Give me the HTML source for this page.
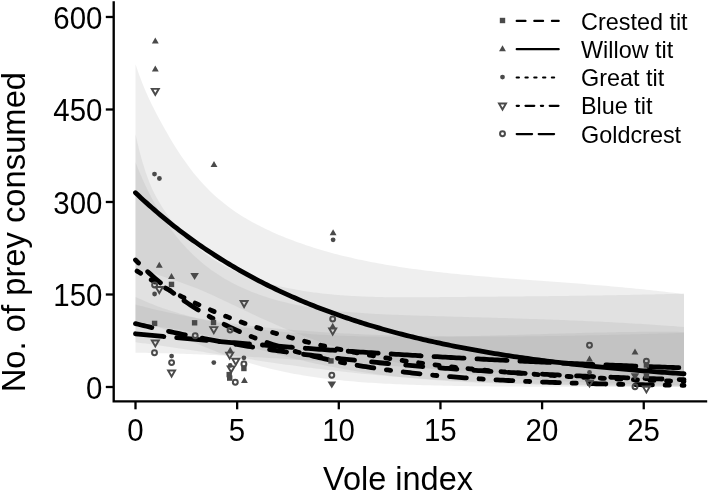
<!DOCTYPE html>
<html><head><meta charset="utf-8"><style>
html,body{margin:0;padding:0;background:#fff;width:709px;height:492px;overflow:hidden}
svg{display:block;font-family:"Liberation Sans",sans-serif;filter:grayscale(1)}
</style></head><body>
<svg width="709" height="492" viewBox="0 0 709 492">
<rect width="709" height="492" fill="#fff"/>
<path d="M135.50 64.20 L138.93 74.21 L142.36 83.28 L145.78 91.57 L149.21 99.22 L152.64 106.35 L156.07 113.09 L159.50 119.54 L162.93 125.78 L166.35 131.85 L169.78 137.74 L173.21 143.43 L176.64 148.92 L180.07 154.20 L183.49 159.27 L186.92 164.12 L190.35 168.75 L193.78 173.15 L197.21 177.32 L200.63 181.28 L204.06 185.02 L207.49 188.58 L210.92 191.96 L214.35 195.16 L217.78 198.21 L221.20 201.11 L224.63 203.87 L228.06 206.50 L231.49 209.01 L234.92 211.41 L238.34 213.69 L241.77 215.88 L245.20 217.98 L248.63 219.99 L252.06 221.92 L255.49 223.78 L258.91 225.57 L262.34 227.29 L265.77 228.96 L269.20 230.57 L272.63 232.14 L276.05 233.66 L279.48 235.13 L282.91 236.56 L286.34 237.95 L289.77 239.30 L293.19 240.61 L296.62 241.88 L300.05 243.11 L303.48 244.31 L306.91 245.47 L310.34 246.60 L313.76 247.70 L317.19 248.76 L320.62 249.80 L324.05 250.80 L327.48 251.77 L330.90 252.72 L334.33 253.64 L337.76 254.53 L341.19 255.40 L344.62 256.24 L348.05 257.06 L351.47 257.86 L354.90 258.63 L358.33 259.38 L361.76 260.11 L365.19 260.82 L368.61 261.51 L372.04 262.17 L375.47 262.82 L378.90 263.45 L382.33 264.07 L385.75 264.67 L389.18 265.24 L392.61 265.81 L396.04 266.36 L399.47 266.89 L402.90 267.41 L406.32 267.91 L409.75 268.40 L413.18 268.88 L416.61 269.34 L420.04 269.80 L423.46 270.24 L426.89 270.67 L430.32 271.08 L433.75 271.49 L437.18 271.89 L440.61 272.27 L444.03 272.65 L447.46 273.02 L450.89 273.38 L454.32 273.73 L457.75 274.07 L461.17 274.41 L464.60 274.74 L468.03 275.06 L471.46 275.37 L474.89 275.68 L478.31 275.99 L481.74 276.28 L485.17 276.58 L488.60 276.86 L492.03 277.14 L495.46 277.42 L498.88 277.70 L502.31 277.97 L505.74 278.24 L509.17 278.50 L512.60 278.76 L516.02 279.02 L519.45 279.28 L522.88 279.53 L526.31 279.79 L529.74 280.04 L533.16 280.29 L536.59 280.54 L540.02 280.79 L543.45 281.04 L546.88 281.29 L550.31 281.54 L553.73 281.79 L557.16 282.04 L560.59 282.29 L564.02 282.55 L567.45 282.80 L570.87 283.06 L574.30 283.32 L577.73 283.59 L581.16 283.85 L584.59 284.12 L588.02 284.39 L591.44 284.67 L594.87 284.94 L598.30 285.23 L601.73 285.51 L605.16 285.80 L608.58 286.10 L612.01 286.40 L615.44 286.71 L618.87 287.02 L622.30 287.33 L625.72 287.65 L629.15 287.98 L632.58 288.31 L636.01 288.65 L639.44 289.00 L642.87 289.35 L646.29 289.71 L649.72 290.08 L653.15 290.45 L656.58 290.83 L660.01 291.22 L663.43 291.61 L666.86 292.01 L670.29 292.42 L673.72 292.84 L677.15 293.27 L680.58 293.70 L684.00 294.15 L684.00 385.11 L680.58 385.05 L677.15 384.99 L673.72 384.94 L670.29 384.87 L666.86 384.81 L663.43 384.75 L660.01 384.68 L656.58 384.61 L653.15 384.54 L649.72 384.46 L646.29 384.39 L642.87 384.31 L639.44 384.23 L636.01 384.14 L632.58 384.05 L629.15 383.96 L625.72 383.87 L622.30 383.77 L618.87 383.67 L615.44 383.57 L612.01 383.46 L608.58 383.35 L605.16 383.24 L601.73 383.12 L598.30 383.00 L594.87 382.88 L591.44 382.75 L588.02 382.62 L584.59 382.48 L581.16 382.34 L577.73 382.19 L574.30 382.04 L570.87 381.88 L567.45 381.72 L564.02 381.55 L560.59 381.38 L557.16 381.20 L553.73 381.02 L550.31 380.83 L546.88 380.63 L543.45 380.43 L540.02 380.22 L536.59 380.01 L533.16 379.79 L529.74 379.56 L526.31 379.32 L522.88 379.08 L519.45 378.83 L516.02 378.57 L512.60 378.30 L509.17 378.03 L505.74 377.75 L502.31 377.45 L498.88 377.15 L495.46 376.84 L492.03 376.52 L488.60 376.19 L485.17 375.85 L481.74 375.50 L478.31 375.14 L474.89 374.77 L471.46 374.39 L468.03 373.99 L464.60 373.59 L461.17 373.17 L457.75 372.74 L454.32 372.30 L450.89 371.84 L447.46 371.38 L444.03 370.90 L440.61 370.40 L437.18 369.89 L433.75 369.37 L430.32 368.83 L426.89 368.28 L423.46 367.71 L420.04 367.13 L416.61 366.53 L413.18 365.91 L409.75 365.28 L406.32 364.63 L402.90 363.97 L399.47 363.28 L396.04 362.58 L392.61 361.86 L389.18 361.13 L385.75 360.37 L382.33 359.60 L378.90 358.80 L375.47 357.99 L372.04 357.15 L368.61 356.30 L365.19 355.42 L361.76 354.53 L358.33 353.61 L354.90 352.68 L351.47 351.72 L348.05 350.74 L344.62 349.73 L341.19 348.71 L337.76 347.66 L334.33 346.59 L330.90 345.50 L327.48 344.38 L324.05 343.24 L320.62 342.08 L317.19 340.89 L313.76 339.69 L310.34 338.45 L306.91 337.20 L303.48 335.92 L300.05 334.61 L296.62 333.29 L293.19 331.93 L289.77 330.56 L286.34 329.16 L282.91 327.74 L279.48 326.30 L276.05 324.83 L272.63 323.34 L269.20 321.82 L265.77 320.29 L262.34 318.73 L258.91 317.15 L255.49 315.56 L252.06 313.95 L248.63 312.34 L245.20 310.71 L241.77 309.07 L238.34 307.43 L234.92 305.79 L231.49 304.14 L228.06 302.51 L224.63 300.88 L221.20 299.26 L217.78 297.66 L214.35 296.08 L210.92 294.53 L207.49 293.00 L204.06 291.50 L200.63 290.04 L197.21 288.62 L193.78 287.25 L190.35 285.93 L186.92 284.65 L183.49 283.41 L180.07 282.21 L176.64 281.03 L173.21 279.89 L169.78 278.76 L166.35 277.65 L162.93 276.55 L159.50 275.44 L156.07 274.35 L152.64 273.31 L149.21 272.34 L145.78 271.50 L142.36 270.81 L138.93 270.33 L135.50 270.09Z" fill="#999999" fill-opacity="0.16"/>
<path d="M135.50 134.36 L138.93 148.94 L142.36 161.63 L145.78 172.57 L149.21 181.91 L152.64 189.89 L156.07 196.78 L159.50 202.85 L162.93 208.29 L166.35 213.31 L169.78 218.03 L173.21 222.48 L176.64 226.67 L180.07 230.62 L183.49 234.35 L186.92 237.87 L190.35 241.20 L193.78 244.34 L197.21 247.31 L200.63 250.12 L204.06 252.77 L207.49 255.29 L210.92 257.66 L214.35 259.91 L217.78 262.05 L221.20 264.06 L224.63 265.98 L228.06 267.79 L231.49 269.51 L234.92 271.14 L238.34 272.68 L241.77 274.15 L245.20 275.54 L248.63 276.86 L252.06 278.12 L255.49 279.31 L258.91 280.44 L262.34 281.52 L265.77 282.55 L269.20 283.53 L272.63 284.45 L276.05 285.33 L279.48 286.17 L282.91 286.96 L286.34 287.71 L289.77 288.42 L293.19 289.10 L296.62 289.73 L300.05 290.34 L303.48 290.90 L306.91 291.44 L310.34 291.94 L313.76 292.42 L317.19 292.86 L320.62 293.28 L324.05 293.67 L327.48 294.03 L330.90 294.37 L334.33 294.68 L337.76 294.97 L341.19 295.24 L344.62 295.49 L348.05 295.72 L351.47 295.93 L354.90 296.12 L358.33 296.30 L361.76 296.45 L365.19 296.59 L368.61 296.72 L372.04 296.83 L375.47 296.93 L378.90 297.01 L382.33 297.08 L385.75 297.14 L389.18 297.19 L392.61 297.23 L396.04 297.26 L399.47 297.28 L402.90 297.29 L406.32 297.30 L409.75 297.30 L413.18 297.29 L416.61 297.28 L420.04 297.26 L423.46 297.24 L426.89 297.22 L430.32 297.19 L433.75 297.16 L437.18 297.13 L440.61 297.10 L444.03 297.07 L447.46 297.04 L450.89 297.02 L454.32 296.99 L457.75 296.96 L461.17 296.93 L464.60 296.90 L468.03 296.87 L471.46 296.84 L474.89 296.81 L478.31 296.78 L481.74 296.75 L485.17 296.73 L488.60 296.70 L492.03 296.67 L495.46 296.64 L498.88 296.60 L502.31 296.57 L505.74 296.54 L509.17 296.51 L512.60 296.48 L516.02 296.45 L519.45 296.41 L522.88 296.38 L526.31 296.35 L529.74 296.31 L533.16 296.28 L536.59 296.24 L540.02 296.20 L543.45 296.17 L546.88 296.13 L550.31 296.09 L553.73 296.05 L557.16 296.01 L560.59 295.97 L564.02 295.92 L567.45 295.88 L570.87 295.84 L574.30 295.79 L577.73 295.74 L581.16 295.70 L584.59 295.65 L588.02 295.60 L591.44 295.55 L594.87 295.50 L598.30 295.44 L601.73 295.39 L605.16 295.33 L608.58 295.27 L612.01 295.21 L615.44 295.15 L618.87 295.09 L622.30 295.03 L625.72 294.96 L629.15 294.90 L632.58 294.83 L636.01 294.76 L639.44 294.69 L642.87 294.62 L646.29 294.54 L649.72 294.47 L653.15 294.39 L656.58 294.31 L660.01 294.23 L663.43 294.14 L666.86 294.06 L670.29 293.97 L673.72 293.88 L677.15 293.79 L680.58 293.69 L684.00 293.59 L684.00 386.97 L680.58 386.97 L677.15 386.97 L673.72 386.97 L670.29 386.97 L666.86 386.96 L663.43 386.96 L660.01 386.96 L656.58 386.96 L653.15 386.95 L649.72 386.95 L646.29 386.95 L642.87 386.95 L639.44 386.94 L636.01 386.94 L632.58 386.94 L629.15 386.93 L625.72 386.93 L622.30 386.93 L618.87 386.92 L615.44 386.92 L612.01 386.91 L608.58 386.91 L605.16 386.90 L601.73 386.90 L598.30 386.89 L594.87 386.88 L591.44 386.88 L588.02 386.87 L584.59 386.86 L581.16 386.85 L577.73 386.85 L574.30 386.84 L570.87 386.83 L567.45 386.82 L564.02 386.81 L560.59 386.80 L557.16 386.79 L553.73 386.77 L550.31 386.76 L546.88 386.75 L543.45 386.73 L540.02 386.72 L536.59 386.70 L533.16 386.69 L529.74 386.67 L526.31 386.65 L522.88 386.63 L519.45 386.61 L516.02 386.59 L512.60 386.56 L509.17 386.54 L505.74 386.51 L502.31 386.48 L498.88 386.45 L495.46 386.42 L492.03 386.39 L488.60 386.36 L485.17 386.32 L481.74 386.28 L478.31 386.24 L474.89 386.20 L471.46 386.15 L468.03 386.11 L464.60 386.06 L461.17 386.00 L457.75 385.95 L454.32 385.89 L450.89 385.82 L447.46 385.76 L444.03 385.69 L440.61 385.61 L437.18 385.53 L433.75 385.45 L430.32 385.36 L426.89 385.27 L423.46 385.17 L420.04 385.07 L416.61 384.96 L413.18 384.85 L409.75 384.73 L406.32 384.60 L402.90 384.46 L399.47 384.32 L396.04 384.17 L392.61 384.01 L389.18 383.85 L385.75 383.67 L382.33 383.49 L378.90 383.29 L375.47 383.09 L372.04 382.87 L368.61 382.65 L365.19 382.41 L361.76 382.16 L358.33 381.90 L354.90 381.62 L351.47 381.33 L348.05 381.02 L344.62 380.70 L341.19 380.37 L337.76 380.02 L334.33 379.65 L330.90 379.26 L327.48 378.86 L324.05 378.43 L320.62 377.99 L317.19 377.53 L313.76 377.04 L310.34 376.53 L306.91 376.00 L303.48 375.45 L300.05 374.87 L296.62 374.27 L293.19 373.65 L289.77 372.99 L286.34 372.31 L282.91 371.60 L279.48 370.87 L276.05 370.10 L272.63 369.30 L269.20 368.48 L265.77 367.62 L262.34 366.73 L258.91 365.81 L255.49 364.86 L252.06 363.87 L248.63 362.85 L245.20 361.79 L241.77 360.71 L238.34 359.59 L234.92 358.43 L231.49 357.25 L228.06 356.03 L224.63 354.78 L221.20 353.50 L217.78 352.19 L214.35 350.85 L210.92 349.49 L207.49 348.10 L204.06 346.68 L200.63 345.24 L197.21 343.79 L193.78 342.31 L190.35 340.82 L186.92 339.31 L183.49 337.80 L180.07 336.27 L176.64 334.74 L173.21 333.22 L169.78 331.69 L166.35 330.17 L162.93 328.67 L159.50 327.21 L156.07 325.87 L152.64 324.69 L149.21 323.75 L145.78 323.11 L142.36 322.80 L138.93 322.81 L135.50 323.12Z" fill="#999999" fill-opacity="0.16"/>
<path d="M135.50 162.16 L138.93 170.66 L142.36 178.64 L145.78 186.14 L149.21 193.19 L152.64 199.83 L156.07 206.07 L159.50 211.96 L162.93 217.50 L166.35 222.73 L169.78 227.67 L173.21 232.33 L176.64 236.73 L180.07 240.89 L183.49 244.82 L186.92 248.54 L190.35 252.07 L193.78 255.40 L197.21 258.56 L200.63 261.56 L204.06 264.39 L207.49 267.09 L210.92 269.64 L214.35 272.06 L217.78 274.37 L221.20 276.55 L224.63 278.63 L228.06 280.60 L231.49 282.48 L234.92 284.26 L238.34 285.96 L241.77 287.57 L245.20 289.10 L248.63 290.56 L252.06 291.95 L255.49 293.28 L258.91 294.53 L262.34 295.73 L265.77 296.87 L269.20 297.95 L272.63 298.98 L276.05 299.96 L279.48 300.89 L282.91 301.77 L286.34 302.61 L289.77 303.41 L293.19 304.17 L296.62 304.89 L300.05 305.57 L303.48 306.21 L306.91 306.83 L310.34 307.41 L313.76 307.96 L317.19 308.48 L320.62 308.97 L324.05 309.43 L327.48 309.87 L330.90 310.29 L334.33 310.68 L337.76 311.05 L341.19 311.40 L344.62 311.72 L348.05 312.03 L351.47 312.32 L354.90 312.60 L358.33 312.86 L361.76 313.10 L365.19 313.32 L368.61 313.54 L372.04 313.74 L375.47 313.93 L378.90 314.11 L382.33 314.27 L385.75 314.43 L389.18 314.58 L392.61 314.72 L396.04 314.86 L399.47 314.99 L402.90 315.11 L406.32 315.23 L409.75 315.34 L413.18 315.45 L416.61 315.55 L420.04 315.66 L423.46 315.76 L426.89 315.87 L430.32 315.97 L433.75 316.07 L437.18 316.17 L440.61 316.26 L444.03 316.36 L447.46 316.46 L450.89 316.56 L454.32 316.65 L457.75 316.75 L461.17 316.85 L464.60 316.94 L468.03 317.04 L471.46 317.13 L474.89 317.23 L478.31 317.33 L481.74 317.42 L485.17 317.52 L488.60 317.62 L492.03 317.72 L495.46 317.82 L498.88 317.92 L502.31 318.02 L505.74 318.12 L509.17 318.23 L512.60 318.33 L516.02 318.44 L519.45 318.55 L522.88 318.66 L526.31 318.77 L529.74 318.88 L533.16 318.99 L536.59 319.11 L540.02 319.23 L543.45 319.35 L546.88 319.47 L550.31 319.59 L553.73 319.72 L557.16 319.85 L560.59 319.98 L564.02 320.12 L567.45 320.25 L570.87 320.39 L574.30 320.53 L577.73 320.68 L581.16 320.83 L584.59 320.98 L588.02 321.13 L591.44 321.29 L594.87 321.45 L598.30 321.61 L601.73 321.78 L605.16 321.94 L608.58 322.12 L612.01 322.29 L615.44 322.47 L618.87 322.66 L622.30 322.85 L625.72 323.04 L629.15 323.23 L632.58 323.43 L636.01 323.63 L639.44 323.84 L642.87 324.05 L646.29 324.26 L649.72 324.48 L653.15 324.70 L656.58 324.93 L660.01 325.16 L663.43 325.39 L666.86 325.63 L670.29 325.88 L673.72 326.12 L677.15 326.38 L680.58 326.63 L684.00 326.89 L684.00 386.49 L680.58 386.47 L677.15 386.45 L673.72 386.43 L670.29 386.41 L666.86 386.39 L663.43 386.37 L660.01 386.35 L656.58 386.33 L653.15 386.30 L649.72 386.28 L646.29 386.25 L642.87 386.23 L639.44 386.20 L636.01 386.17 L632.58 386.14 L629.15 386.11 L625.72 386.08 L622.30 386.05 L618.87 386.01 L615.44 385.98 L612.01 385.94 L608.58 385.90 L605.16 385.86 L601.73 385.82 L598.30 385.78 L594.87 385.74 L591.44 385.69 L588.02 385.64 L584.59 385.59 L581.16 385.54 L577.73 385.49 L574.30 385.43 L570.87 385.38 L567.45 385.32 L564.02 385.26 L560.59 385.19 L557.16 385.12 L553.73 385.06 L550.31 384.98 L546.88 384.91 L543.45 384.83 L540.02 384.75 L536.59 384.67 L533.16 384.58 L529.74 384.49 L526.31 384.40 L522.88 384.30 L519.45 384.20 L516.02 384.10 L512.60 383.99 L509.17 383.88 L505.74 383.76 L502.31 383.64 L498.88 383.52 L495.46 383.39 L492.03 383.25 L488.60 383.11 L485.17 382.97 L481.74 382.81 L478.31 382.66 L474.89 382.50 L471.46 382.33 L468.03 382.15 L464.60 381.97 L461.17 381.78 L457.75 381.59 L454.32 381.38 L450.89 381.17 L447.46 380.96 L444.03 380.73 L440.61 380.50 L437.18 380.25 L433.75 380.00 L430.32 379.74 L426.89 379.47 L423.46 379.19 L420.04 378.89 L416.61 378.59 L413.18 378.28 L409.75 377.95 L406.32 377.62 L402.90 377.27 L399.47 376.91 L396.04 376.53 L392.61 376.15 L389.18 375.75 L385.75 375.33 L382.33 374.91 L378.90 374.47 L375.47 374.01 L372.04 373.54 L368.61 373.06 L365.19 372.56 L361.76 372.04 L358.33 371.51 L354.90 370.97 L351.47 370.41 L348.05 369.83 L344.62 369.23 L341.19 368.62 L337.76 368.00 L334.33 367.36 L330.90 366.70 L327.48 366.02 L324.05 365.33 L320.62 364.62 L317.19 363.90 L313.76 363.16 L310.34 362.40 L306.91 361.63 L303.48 360.85 L300.05 360.05 L296.62 359.23 L293.19 358.40 L289.77 357.56 L286.34 356.71 L282.91 355.84 L279.48 354.96 L276.05 354.07 L272.63 353.18 L269.20 352.27 L265.77 351.35 L262.34 350.43 L258.91 349.50 L255.49 348.57 L252.06 347.63 L248.63 346.69 L245.20 345.75 L241.77 344.81 L238.34 343.87 L234.92 342.93 L231.49 342.00 L228.06 341.08 L224.63 340.16 L221.20 339.26 L217.78 338.37 L214.35 337.49 L210.92 336.63 L207.49 335.79 L204.06 334.96 L200.63 334.17 L197.21 333.39 L193.78 332.65 L190.35 331.93 L186.92 331.25 L183.49 330.60 L180.07 329.99 L176.64 329.41 L173.21 328.88 L169.78 328.38 L166.35 327.94 L162.93 327.54 L159.50 327.18 L156.07 326.88 L152.64 326.63 L149.21 326.43 L145.78 326.29 L142.36 326.20 L138.93 326.17 L135.50 326.19Z" fill="#999999" fill-opacity="0.16"/>
<path d="M135.50 297.03 L138.93 298.60 L142.36 300.12 L145.78 301.59 L149.21 303.00 L152.64 304.36 L156.07 305.67 L159.50 306.93 L162.93 308.15 L166.35 309.33 L169.78 310.46 L173.21 311.56 L176.64 312.61 L180.07 313.63 L183.49 314.61 L186.92 315.56 L190.35 316.48 L193.78 317.36 L197.21 318.21 L200.63 319.03 L204.06 319.82 L207.49 320.59 L210.92 321.33 L214.35 322.04 L217.78 322.72 L221.20 323.38 L224.63 324.02 L228.06 324.64 L231.49 325.23 L234.92 325.80 L238.34 326.35 L241.77 326.88 L245.20 327.39 L248.63 327.88 L252.06 328.36 L255.49 328.81 L258.91 329.25 L262.34 329.67 L265.77 330.08 L269.20 330.47 L272.63 330.84 L276.05 331.20 L279.48 331.54 L282.91 331.87 L286.34 332.19 L289.77 332.49 L293.19 332.78 L296.62 333.06 L300.05 333.32 L303.48 333.58 L306.91 333.82 L310.34 334.05 L313.76 334.27 L317.19 334.47 L320.62 334.67 L324.05 334.86 L327.48 335.04 L330.90 335.20 L334.33 335.36 L337.76 335.51 L341.19 335.65 L344.62 335.78 L348.05 335.90 L351.47 336.02 L354.90 336.12 L358.33 336.22 L361.76 336.31 L365.19 336.39 L368.61 336.47 L372.04 336.54 L375.47 336.60 L378.90 336.65 L382.33 336.70 L385.75 336.74 L389.18 336.77 L392.61 336.80 L396.04 336.82 L399.47 336.84 L402.90 336.85 L406.32 336.85 L409.75 336.85 L413.18 336.84 L416.61 336.83 L420.04 336.82 L423.46 336.79 L426.89 336.77 L430.32 336.74 L433.75 336.70 L437.18 336.66 L440.61 336.62 L444.03 336.57 L447.46 336.52 L450.89 336.46 L454.32 336.40 L457.75 336.34 L461.17 336.28 L464.60 336.21 L468.03 336.14 L471.46 336.06 L474.89 335.98 L478.31 335.90 L481.74 335.82 L485.17 335.73 L488.60 335.64 L492.03 335.55 L495.46 335.46 L498.88 335.37 L502.31 335.27 L505.74 335.18 L509.17 335.08 L512.60 334.98 L516.02 334.88 L519.45 334.78 L522.88 334.67 L526.31 334.57 L529.74 334.47 L533.16 334.36 L536.59 334.26 L540.02 334.16 L543.45 334.05 L546.88 333.95 L550.31 333.84 L553.73 333.74 L557.16 333.64 L560.59 333.54 L564.02 333.44 L567.45 333.34 L570.87 333.24 L574.30 333.15 L577.73 333.05 L581.16 332.96 L584.59 332.87 L588.02 332.78 L591.44 332.70 L594.87 332.61 L598.30 332.53 L601.73 332.46 L605.16 332.38 L608.58 332.31 L612.01 332.24 L615.44 332.18 L618.87 332.12 L622.30 332.07 L625.72 332.01 L629.15 331.97 L632.58 331.92 L636.01 331.89 L639.44 331.85 L642.87 331.82 L646.29 331.80 L649.72 331.78 L653.15 331.77 L656.58 331.77 L660.01 331.76 L663.43 331.77 L666.86 331.78 L670.29 331.80 L673.72 331.82 L677.15 331.86 L680.58 331.89 L684.00 331.94 L684.00 386.03 L680.58 386.00 L677.15 385.97 L673.72 385.95 L670.29 385.92 L666.86 385.89 L663.43 385.86 L660.01 385.83 L656.58 385.80 L653.15 385.76 L649.72 385.73 L646.29 385.69 L642.87 385.66 L639.44 385.62 L636.01 385.58 L632.58 385.54 L629.15 385.50 L625.72 385.46 L622.30 385.41 L618.87 385.37 L615.44 385.32 L612.01 385.27 L608.58 385.22 L605.16 385.17 L601.73 385.12 L598.30 385.07 L594.87 385.01 L591.44 384.95 L588.02 384.89 L584.59 384.83 L581.16 384.77 L577.73 384.71 L574.30 384.64 L570.87 384.57 L567.45 384.50 L564.02 384.43 L560.59 384.35 L557.16 384.27 L553.73 384.19 L550.31 384.11 L546.88 384.03 L543.45 383.94 L540.02 383.85 L536.59 383.76 L533.16 383.66 L529.74 383.56 L526.31 383.46 L522.88 383.36 L519.45 383.25 L516.02 383.14 L512.60 383.03 L509.17 382.91 L505.74 382.79 L502.31 382.67 L498.88 382.54 L495.46 382.41 L492.03 382.28 L488.60 382.14 L485.17 382.00 L481.74 381.85 L478.31 381.70 L474.89 381.55 L471.46 381.39 L468.03 381.23 L464.60 381.06 L461.17 380.89 L457.75 380.72 L454.32 380.54 L450.89 380.35 L447.46 380.17 L444.03 379.97 L440.61 379.77 L437.18 379.57 L433.75 379.36 L430.32 379.14 L426.89 378.92 L423.46 378.70 L420.04 378.47 L416.61 378.23 L413.18 377.99 L409.75 377.74 L406.32 377.49 L402.90 377.23 L399.47 376.97 L396.04 376.69 L392.61 376.42 L389.18 376.13 L385.75 375.84 L382.33 375.55 L378.90 375.25 L375.47 374.94 L372.04 374.62 L368.61 374.30 L365.19 373.97 L361.76 373.64 L358.33 373.30 L354.90 372.95 L351.47 372.59 L348.05 372.23 L344.62 371.87 L341.19 371.49 L337.76 371.11 L334.33 370.72 L330.90 370.33 L327.48 369.93 L324.05 369.52 L320.62 369.11 L317.19 368.69 L313.76 368.26 L310.34 367.83 L306.91 367.39 L303.48 366.94 L300.05 366.49 L296.62 366.03 L293.19 365.57 L289.77 365.10 L286.34 364.63 L282.91 364.15 L279.48 363.66 L276.05 363.17 L272.63 362.68 L269.20 362.18 L265.77 361.67 L262.34 361.16 L258.91 360.65 L255.49 360.13 L252.06 359.61 L248.63 359.09 L245.20 358.56 L241.77 358.03 L238.34 357.50 L234.92 356.97 L231.49 356.43 L228.06 355.89 L224.63 355.36 L221.20 354.82 L217.78 354.28 L214.35 353.74 L210.92 353.20 L207.49 352.66 L204.06 352.12 L200.63 351.58 L197.21 351.05 L193.78 350.52 L190.35 349.99 L186.92 349.46 L183.49 348.94 L180.07 348.43 L176.64 347.91 L173.21 347.41 L169.78 346.91 L166.35 346.41 L162.93 345.92 L159.50 345.44 L156.07 344.97 L152.64 344.51 L149.21 344.05 L145.78 343.60 L142.36 343.17 L138.93 342.74 L135.50 342.33Z" fill="#999999" fill-opacity="0.16"/>
<path d="M135.50 304.44 L138.93 305.38 L142.36 306.29 L145.78 307.18 L149.21 308.05 L152.64 308.90 L156.07 309.72 L159.50 310.53 L162.93 311.31 L166.35 312.08 L169.78 312.82 L173.21 313.55 L176.64 314.25 L180.07 314.94 L183.49 315.62 L186.92 316.27 L190.35 316.91 L193.78 317.53 L197.21 318.14 L200.63 318.73 L204.06 319.31 L207.49 319.87 L210.92 320.41 L214.35 320.95 L217.78 321.47 L221.20 321.97 L224.63 322.47 L228.06 322.95 L231.49 323.42 L234.92 323.87 L238.34 324.32 L241.77 324.75 L245.20 325.17 L248.63 325.58 L252.06 325.98 L255.49 326.37 L258.91 326.75 L262.34 327.12 L265.77 327.48 L269.20 327.82 L272.63 328.16 L276.05 328.49 L279.48 328.82 L282.91 329.13 L286.34 329.43 L289.77 329.73 L293.19 330.01 L296.62 330.29 L300.05 330.56 L303.48 330.83 L306.91 331.08 L310.34 331.33 L313.76 331.57 L317.19 331.80 L320.62 332.03 L324.05 332.25 L327.48 332.46 L330.90 332.67 L334.33 332.86 L337.76 333.06 L341.19 333.24 L344.62 333.42 L348.05 333.60 L351.47 333.76 L354.90 333.93 L358.33 334.08 L361.76 334.23 L365.19 334.38 L368.61 334.52 L372.04 334.65 L375.47 334.78 L378.90 334.90 L382.33 335.02 L385.75 335.13 L389.18 335.24 L392.61 335.35 L396.04 335.45 L399.47 335.54 L402.90 335.63 L406.32 335.71 L409.75 335.80 L413.18 335.87 L416.61 335.94 L420.04 336.01 L423.46 336.07 L426.89 336.13 L430.32 336.19 L433.75 336.24 L437.18 336.29 L440.61 336.33 L444.03 336.37 L447.46 336.41 L450.89 336.44 L454.32 336.47 L457.75 336.50 L461.17 336.52 L464.60 336.54 L468.03 336.55 L471.46 336.56 L474.89 336.57 L478.31 336.58 L481.74 336.58 L485.17 336.58 L488.60 336.58 L492.03 336.57 L495.46 336.56 L498.88 336.55 L502.31 336.53 L505.74 336.51 L509.17 336.49 L512.60 336.47 L516.02 336.44 L519.45 336.41 L522.88 336.38 L526.31 336.35 L529.74 336.31 L533.16 336.27 L536.59 336.23 L540.02 336.19 L543.45 336.14 L546.88 336.09 L550.31 336.04 L553.73 335.99 L557.16 335.94 L560.59 335.88 L564.02 335.82 L567.45 335.76 L570.87 335.70 L574.30 335.64 L577.73 335.57 L581.16 335.51 L584.59 335.44 L588.02 335.37 L591.44 335.29 L594.87 335.22 L598.30 335.15 L601.73 335.07 L605.16 334.99 L608.58 334.91 L612.01 334.83 L615.44 334.75 L618.87 334.67 L622.30 334.58 L625.72 334.50 L629.15 334.41 L632.58 334.32 L636.01 334.23 L639.44 334.14 L642.87 334.05 L646.29 333.96 L649.72 333.87 L653.15 333.78 L656.58 333.69 L660.01 333.59 L663.43 333.50 L666.86 333.40 L670.29 333.31 L673.72 333.21 L677.15 333.12 L680.58 333.02 L684.00 332.92 L684.00 380.26 L680.58 380.16 L677.15 380.06 L673.72 379.96 L670.29 379.85 L666.86 379.75 L663.43 379.64 L660.01 379.54 L656.58 379.43 L653.15 379.31 L649.72 379.20 L646.29 379.09 L642.87 378.97 L639.44 378.85 L636.01 378.74 L632.58 378.61 L629.15 378.49 L625.72 378.37 L622.30 378.24 L618.87 378.12 L615.44 377.99 L612.01 377.86 L608.58 377.72 L605.16 377.59 L601.73 377.45 L598.30 377.32 L594.87 377.18 L591.44 377.04 L588.02 376.89 L584.59 376.75 L581.16 376.60 L577.73 376.46 L574.30 376.31 L570.87 376.16 L567.45 376.00 L564.02 375.85 L560.59 375.69 L557.16 375.53 L553.73 375.37 L550.31 375.21 L546.88 375.05 L543.45 374.88 L540.02 374.71 L536.59 374.54 L533.16 374.37 L529.74 374.20 L526.31 374.03 L522.88 373.85 L519.45 373.67 L516.02 373.49 L512.60 373.31 L509.17 373.13 L505.74 372.94 L502.31 372.76 L498.88 372.57 L495.46 372.38 L492.03 372.19 L488.60 371.99 L485.17 371.80 L481.74 371.60 L478.31 371.41 L474.89 371.21 L471.46 371.01 L468.03 370.80 L464.60 370.60 L461.17 370.39 L457.75 370.19 L454.32 369.98 L450.89 369.77 L447.46 369.56 L444.03 369.34 L440.61 369.13 L437.18 368.92 L433.75 368.70 L430.32 368.48 L426.89 368.26 L423.46 368.05 L420.04 367.82 L416.61 367.60 L413.18 367.38 L409.75 367.16 L406.32 366.93 L402.90 366.71 L399.47 366.48 L396.04 366.25 L392.61 366.03 L389.18 365.80 L385.75 365.57 L382.33 365.34 L378.90 365.11 L375.47 364.88 L372.04 364.65 L368.61 364.42 L365.19 364.19 L361.76 363.96 L358.33 363.73 L354.90 363.50 L351.47 363.27 L348.05 363.04 L344.62 362.81 L341.19 362.58 L337.76 362.35 L334.33 362.12 L330.90 361.89 L327.48 361.66 L324.05 361.43 L320.62 361.21 L317.19 360.98 L313.76 360.76 L310.34 360.53 L306.91 360.31 L303.48 360.09 L300.05 359.87 L296.62 359.65 L293.19 359.43 L289.77 359.22 L286.34 359.00 L282.91 358.79 L279.48 358.58 L276.05 358.37 L272.63 358.17 L269.20 357.96 L265.77 357.76 L262.34 357.56 L258.91 357.36 L255.49 357.17 L252.06 356.98 L248.63 356.79 L245.20 356.60 L241.77 356.42 L238.34 356.24 L234.92 356.06 L231.49 355.88 L228.06 355.71 L224.63 355.55 L221.20 355.38 L217.78 355.22 L214.35 355.06 L210.92 354.91 L207.49 354.76 L204.06 354.62 L200.63 354.48 L197.21 354.34 L193.78 354.21 L190.35 354.08 L186.92 353.96 L183.49 353.84 L180.07 353.72 L176.64 353.61 L173.21 353.51 L169.78 353.41 L166.35 353.31 L162.93 353.22 L159.50 353.14 L156.07 353.06 L152.64 352.98 L149.21 352.91 L145.78 352.85 L142.36 352.79 L138.93 352.74 L135.50 352.69Z" fill="#999999" fill-opacity="0.16"/>
<path d="M135.50 323.60 L138.24 324.28 L140.99 324.96 L143.73 325.62 L146.47 326.28 L149.21 326.93 L151.96 327.58 L154.70 328.22 L157.44 328.85 L160.18 329.47 L162.93 330.09 L165.67 330.70 L168.41 331.30 L171.15 331.90 L173.90 332.49 L176.64 333.08 L179.38 333.66 L182.12 334.23 L184.87 334.80 L187.61 335.36 L190.35 335.91 L193.09 336.46 L195.84 337.00 L198.58 337.54 L201.32 338.07 L204.06 338.59 L206.81 339.11 L209.55 339.63 L212.29 340.14 L215.03 340.64 L217.78 341.14 L220.52 341.63 L223.26 342.12 L226.00 342.60 L228.75 343.07 L231.49 343.55 L234.23 344.01 L236.97 344.47 L239.72 344.93 L242.46 345.38 L245.20 345.83 L247.94 346.27 L250.69 346.71 L253.43 347.14 L256.17 347.57 L258.91 347.99 L261.66 348.41 L264.40 348.82 L267.14 349.23 L269.88 349.64 L272.63 350.04 L275.37 350.44 L278.11 350.83 L280.85 351.22 L283.60 351.60 L286.34 351.98 L289.08 352.36 L291.82 352.73 L294.57 353.10 L297.31 353.46 L300.05 353.82 L302.79 354.18 L305.54 354.53 L308.28 354.88 L311.02 355.22 L313.76 355.56 L316.51 355.90 L319.25 356.24 L321.99 356.57 L324.73 356.89 L327.48 357.22 L330.22 357.54 L332.96 357.85 L335.70 358.16 L338.45 358.47 L341.19 358.78 L343.93 359.08 L346.67 359.38 L349.42 359.68 L352.16 359.97 L354.90 360.26 L357.64 360.55 L360.39 360.83 L363.13 361.11 L365.87 361.39 L368.61 361.67 L371.36 361.94 L374.10 362.21 L376.84 362.47 L379.58 362.74 L382.33 363.00 L385.07 363.26 L387.81 363.51 L390.55 363.76 L393.30 364.01 L396.04 364.26 L398.78 364.50 L401.52 364.74 L404.27 364.98 L407.01 365.22 L409.75 365.45 L412.49 365.68 L415.24 365.91 L417.98 366.14 L420.72 366.36 L423.46 366.59 L426.21 366.80 L428.95 367.02 L431.69 367.24 L434.43 367.45 L437.18 367.66 L439.92 367.87 L442.66 368.07 L445.40 368.27 L448.15 368.47 L450.89 368.67 L453.63 368.87 L456.37 369.07 L459.12 369.26 L461.86 369.45 L464.60 369.64 L467.34 369.82 L470.09 370.01 L472.83 370.19 L475.57 370.37 L478.31 370.55 L481.06 370.73 L483.80 370.90 L486.54 371.07 L489.28 371.24 L492.03 371.41 L494.77 371.58 L497.51 371.75 L500.25 371.91 L503.00 372.07 L505.74 372.23 L508.48 372.39 L511.22 372.55 L513.97 372.70 L516.71 372.86 L519.45 373.01 L522.19 373.16 L524.94 373.31 L527.68 373.45 L530.42 373.60 L533.16 373.74 L535.91 373.88 L538.65 374.03 L541.39 374.16 L544.14 374.30 L546.88 374.44 L549.62 374.57 L552.36 374.71 L555.11 374.84 L557.85 374.97 L560.59 375.10 L563.33 375.23 L566.08 375.35 L568.82 375.48 L571.56 375.60 L574.30 375.72 L577.05 375.84 L579.79 375.96 L582.53 376.08 L585.27 376.20 L588.02 376.32 L590.76 376.43 L593.50 376.54 L596.24 376.66 L598.99 376.77 L601.73 376.88 L604.47 376.99 L607.21 377.09 L609.96 377.20 L612.70 377.31 L615.44 377.41 L618.18 377.51 L620.93 377.61 L623.67 377.71 L626.41 377.81 L629.15 377.91 L631.90 378.01 L634.64 378.11 L637.38 378.20 L640.12 378.30 L642.87 378.39 L645.61 378.48 L648.35 378.57 L651.09 378.66 L653.84 378.75 L656.58 378.84 L659.32 378.93 L662.06 379.02 L664.81 379.10 L667.55 379.19 L670.29 379.27 L673.03 379.35 L675.78 379.44 L678.52 379.52 L681.26 379.60 L684.00 379.68" fill="none" stroke="#000" stroke-width="4.8" stroke-linecap="round" stroke-linejoin="round" stroke-dasharray="17.120 17.120" stroke-dashoffset="0.300"/>
<path d="M135.50 192.74 L138.24 195.33 L140.99 197.89 L143.73 200.41 L146.47 202.89 L149.21 205.35 L151.96 207.77 L154.70 210.16 L157.44 212.52 L160.18 214.84 L162.93 217.14 L165.67 219.40 L168.41 221.64 L171.15 223.84 L173.90 226.02 L176.64 228.17 L179.38 230.28 L182.12 232.37 L184.87 234.43 L187.61 236.47 L190.35 238.48 L193.09 240.46 L195.84 242.41 L198.58 244.34 L201.32 246.24 L204.06 248.12 L206.81 249.97 L209.55 251.80 L212.29 253.60 L215.03 255.38 L217.78 257.13 L220.52 258.86 L223.26 260.57 L226.00 262.26 L228.75 263.92 L231.49 265.56 L234.23 267.18 L236.97 268.78 L239.72 270.35 L242.46 271.91 L245.20 273.44 L247.94 274.96 L250.69 276.45 L253.43 277.93 L256.17 279.38 L258.91 280.81 L261.66 282.23 L264.40 283.63 L267.14 285.01 L269.88 286.37 L272.63 287.71 L275.37 289.03 L278.11 290.34 L280.85 291.63 L283.60 292.90 L286.34 294.15 L289.08 295.39 L291.82 296.61 L294.57 297.82 L297.31 299.01 L300.05 300.18 L302.79 301.34 L305.54 302.48 L308.28 303.61 L311.02 304.72 L313.76 305.81 L316.51 306.90 L319.25 307.97 L321.99 309.02 L324.73 310.06 L327.48 311.08 L330.22 312.10 L332.96 313.10 L335.70 314.08 L338.45 315.05 L341.19 316.01 L343.93 316.96 L346.67 317.89 L349.42 318.81 L352.16 319.72 L354.90 320.62 L357.64 321.51 L360.39 322.38 L363.13 323.24 L365.87 324.09 L368.61 324.93 L371.36 325.76 L374.10 326.57 L376.84 327.38 L379.58 328.17 L382.33 328.96 L385.07 329.73 L387.81 330.50 L390.55 331.25 L393.30 331.99 L396.04 332.73 L398.78 333.45 L401.52 334.16 L404.27 334.87 L407.01 335.56 L409.75 336.25 L412.49 336.92 L415.24 337.59 L417.98 338.25 L420.72 338.90 L423.46 339.54 L426.21 340.18 L428.95 340.80 L431.69 341.42 L434.43 342.02 L437.18 342.62 L439.92 343.21 L442.66 343.80 L445.40 344.37 L448.15 344.94 L450.89 345.50 L453.63 346.06 L456.37 346.60 L459.12 347.14 L461.86 347.67 L464.60 348.20 L467.34 348.71 L470.09 349.22 L472.83 349.73 L475.57 350.23 L478.31 350.72 L481.06 351.20 L483.80 351.68 L486.54 352.15 L489.28 352.61 L492.03 353.07 L494.77 353.52 L497.51 353.97 L500.25 354.41 L503.00 354.84 L505.74 355.27 L508.48 355.70 L511.22 356.11 L513.97 356.53 L516.71 356.93 L519.45 357.33 L522.19 357.73 L524.94 358.12 L527.68 358.50 L530.42 358.88 L533.16 359.26 L535.91 359.63 L538.65 359.99 L541.39 360.35 L544.14 360.71 L546.88 361.06 L549.62 361.41 L552.36 361.75 L555.11 362.08 L557.85 362.42 L560.59 362.74 L563.33 363.07 L566.08 363.39 L568.82 363.70 L571.56 364.01 L574.30 364.32 L577.05 364.62 L579.79 364.92 L582.53 365.21 L585.27 365.50 L588.02 365.79 L590.76 366.07 L593.50 366.35 L596.24 366.63 L598.99 366.90 L601.73 367.17 L604.47 367.43 L607.21 367.69 L609.96 367.95 L612.70 368.20 L615.44 368.45 L618.18 368.70 L620.93 368.95 L623.67 369.19 L626.41 369.42 L629.15 369.66 L631.90 369.89 L634.64 370.12 L637.38 370.34 L640.12 370.56 L642.87 370.78 L645.61 371.00 L648.35 371.21 L651.09 371.42 L653.84 371.63 L656.58 371.84 L659.32 372.04 L662.06 372.24 L664.81 372.43 L667.55 372.63 L670.29 372.82 L673.03 373.01 L675.78 373.20 L678.52 373.38 L681.26 373.56 L684.00 373.74" fill="none" stroke="#000" stroke-width="4.8" stroke-linecap="round" stroke-linejoin="round"/>
<path d="M135.50 270.07 L138.24 271.84 L140.99 273.58 L143.73 275.30 L146.47 276.99 L149.21 278.65 L151.96 280.29 L154.70 281.91 L157.44 283.50 L160.18 285.06 L162.93 286.61 L165.67 288.12 L168.41 289.62 L171.15 291.09 L173.90 292.54 L176.64 293.97 L179.38 295.38 L182.12 296.77 L184.87 298.13 L187.61 299.48 L190.35 300.80 L193.09 302.10 L195.84 303.39 L198.58 304.65 L201.32 305.90 L204.06 307.13 L206.81 308.33 L209.55 309.52 L212.29 310.70 L215.03 311.85 L217.78 312.99 L220.52 314.11 L223.26 315.21 L226.00 316.30 L228.75 317.37 L231.49 318.42 L234.23 319.46 L236.97 320.48 L239.72 321.48 L242.46 322.48 L245.20 323.45 L247.94 324.41 L250.69 325.36 L253.43 326.29 L256.17 327.21 L258.91 328.12 L261.66 329.01 L264.40 329.88 L267.14 330.75 L269.88 331.60 L272.63 332.44 L275.37 333.26 L278.11 334.08 L280.85 334.88 L283.60 335.66 L286.34 336.44 L289.08 337.21 L291.82 337.96 L294.57 338.70 L297.31 339.43 L300.05 340.15 L302.79 340.86 L305.54 341.56 L308.28 342.25 L311.02 342.92 L313.76 343.59 L316.51 344.25 L319.25 344.89 L321.99 345.53 L324.73 346.16 L327.48 346.78 L330.22 347.38 L332.96 347.98 L335.70 348.57 L338.45 349.15 L341.19 349.73 L343.93 350.29 L346.67 350.85 L349.42 351.39 L352.16 351.93 L354.90 352.46 L357.64 352.98 L360.39 353.50 L363.13 354.01 L365.87 354.51 L368.61 355.00 L371.36 355.48 L374.10 355.96 L376.84 356.43 L379.58 356.89 L382.33 357.35 L385.07 357.79 L387.81 358.24 L390.55 358.67 L393.30 359.10 L396.04 359.52 L398.78 359.94 L401.52 360.35 L404.27 360.75 L407.01 361.15 L409.75 361.54 L412.49 361.92 L415.24 362.30 L417.98 362.68 L420.72 363.04 L423.46 363.41 L426.21 363.76 L428.95 364.12 L431.69 364.46 L434.43 364.80 L437.18 365.14 L439.92 365.47 L442.66 365.79 L445.40 366.12 L448.15 366.43 L450.89 366.74 L453.63 367.05 L456.37 367.35 L459.12 367.65 L461.86 367.94 L464.60 368.23 L467.34 368.51 L470.09 368.79 L472.83 369.07 L475.57 369.34 L478.31 369.61 L481.06 369.87 L483.80 370.13 L486.54 370.38 L489.28 370.64 L492.03 370.88 L494.77 371.13 L497.51 371.37 L500.25 371.60 L503.00 371.84 L505.74 372.07 L508.48 372.29 L511.22 372.51 L513.97 372.73 L516.71 372.95 L519.45 373.16 L522.19 373.37 L524.94 373.58 L527.68 373.78 L530.42 373.98 L533.16 374.18 L535.91 374.37 L538.65 374.56 L541.39 374.75 L544.14 374.94 L546.88 375.12 L549.62 375.30 L552.36 375.48 L555.11 375.65 L557.85 375.82 L560.59 375.99 L563.33 376.16 L566.08 376.32 L568.82 376.48 L571.56 376.64 L574.30 376.80 L577.05 376.95 L579.79 377.10 L582.53 377.25 L585.27 377.40 L588.02 377.55 L590.76 377.69 L593.50 377.83 L596.24 377.97 L598.99 378.11 L601.73 378.24 L604.47 378.37 L607.21 378.50 L609.96 378.63 L612.70 378.76 L615.44 378.88 L618.18 379.01 L620.93 379.13 L623.67 379.25 L626.41 379.36 L629.15 379.48 L631.90 379.59 L634.64 379.70 L637.38 379.82 L640.12 379.92 L642.87 380.03 L645.61 380.14 L648.35 380.24 L651.09 380.34 L653.84 380.44 L656.58 380.54 L659.32 380.64 L662.06 380.74 L664.81 380.83 L667.55 380.92 L670.29 381.02 L673.03 381.11 L675.78 381.20 L678.52 381.28 L681.26 381.37 L684.00 381.46" fill="none" stroke="#000" stroke-width="4.8" stroke-linecap="round" stroke-linejoin="round" stroke-dasharray="4.145 12.435" stroke-dashoffset="14.660"/>
<path d="M135.50 259.96 L138.24 262.71 L140.99 265.39 L143.73 268.02 L146.47 270.59 L149.21 273.11 L151.96 275.57 L154.70 277.98 L157.44 280.34 L160.18 282.64 L162.93 284.90 L165.67 287.11 L168.41 289.27 L171.15 291.38 L173.90 293.44 L176.64 295.47 L179.38 297.45 L182.12 299.38 L184.87 301.28 L187.61 303.13 L190.35 304.94 L193.09 306.72 L195.84 308.45 L198.58 310.15 L201.32 311.81 L204.06 313.44 L206.81 315.03 L209.55 316.58 L212.29 318.10 L215.03 319.59 L217.78 321.05 L220.52 322.48 L223.26 323.87 L226.00 325.24 L228.75 326.57 L231.49 327.88 L234.23 329.16 L236.97 330.41 L239.72 331.63 L242.46 332.83 L245.20 334.00 L247.94 335.14 L250.69 336.26 L253.43 337.36 L256.17 338.43 L258.91 339.48 L261.66 340.51 L264.40 341.52 L267.14 342.50 L269.88 343.46 L272.63 344.40 L275.37 345.32 L278.11 346.22 L280.85 347.10 L283.60 347.97 L286.34 348.81 L289.08 349.64 L291.82 350.44 L294.57 351.23 L297.31 352.01 L300.05 352.76 L302.79 353.50 L305.54 354.23 L308.28 354.94 L311.02 355.63 L313.76 356.31 L316.51 356.97 L319.25 357.62 L321.99 358.26 L324.73 358.88 L327.48 359.48 L330.22 360.08 L332.96 360.66 L335.70 361.23 L338.45 361.79 L341.19 362.33 L343.93 362.87 L346.67 363.39 L349.42 363.90 L352.16 364.40 L354.90 364.89 L357.64 365.36 L360.39 365.83 L363.13 366.29 L365.87 366.74 L368.61 367.18 L371.36 367.60 L374.10 368.02 L376.84 368.43 L379.58 368.83 L382.33 369.23 L385.07 369.61 L387.81 369.99 L390.55 370.36 L393.30 370.71 L396.04 371.07 L398.78 371.41 L401.52 371.75 L404.27 372.08 L407.01 372.40 L409.75 372.72 L412.49 373.03 L415.24 373.33 L417.98 373.62 L420.72 373.91 L423.46 374.19 L426.21 374.47 L428.95 374.74 L431.69 375.01 L434.43 375.27 L437.18 375.52 L439.92 375.77 L442.66 376.01 L445.40 376.25 L448.15 376.48 L450.89 376.71 L453.63 376.93 L456.37 377.15 L459.12 377.36 L461.86 377.57 L464.60 377.77 L467.34 377.97 L470.09 378.17 L472.83 378.36 L475.57 378.55 L478.31 378.73 L481.06 378.91 L483.80 379.08 L486.54 379.25 L489.28 379.42 L492.03 379.58 L494.77 379.75 L497.51 379.90 L500.25 380.06 L503.00 380.21 L505.74 380.35 L508.48 380.50 L511.22 380.64 L513.97 380.77 L516.71 380.91 L519.45 381.04 L522.19 381.17 L524.94 381.30 L527.68 381.42 L530.42 381.54 L533.16 381.66 L535.91 381.77 L538.65 381.89 L541.39 382.00 L544.14 382.10 L546.88 382.21 L549.62 382.31 L552.36 382.42 L555.11 382.51 L557.85 382.61 L560.59 382.71 L563.33 382.80 L566.08 382.89 L568.82 382.98 L571.56 383.07 L574.30 383.15 L577.05 383.23 L579.79 383.32 L582.53 383.39 L585.27 383.47 L588.02 383.55 L590.76 383.62 L593.50 383.70 L596.24 383.77 L598.99 383.84 L601.73 383.91 L604.47 383.97 L607.21 384.04 L609.96 384.10 L612.70 384.17 L615.44 384.23 L618.18 384.29 L620.93 384.35 L623.67 384.40 L626.41 384.46 L629.15 384.51 L631.90 384.57 L634.64 384.62 L637.38 384.67 L640.12 384.72 L642.87 384.77 L645.61 384.82 L648.35 384.87 L651.09 384.91 L653.84 384.96 L656.58 385.00 L659.32 385.04 L662.06 385.09 L664.81 385.13 L667.55 385.17 L670.29 385.21 L673.03 385.25 L675.78 385.29 L678.52 385.32 L681.26 385.36 L684.00 385.39" fill="none" stroke="#000" stroke-width="4.8" stroke-linecap="round" stroke-linejoin="round" stroke-dasharray="4.232 12.696 16.928 12.696" stroke-dashoffset="0.000"/>
<path d="M135.50 333.78 L138.24 334.05 L140.99 334.32 L143.73 334.59 L146.47 334.86 L149.21 335.13 L151.96 335.39 L154.70 335.65 L157.44 335.92 L160.18 336.18 L162.93 336.44 L165.67 336.70 L168.41 336.95 L171.15 337.21 L173.90 337.46 L176.64 337.72 L179.38 337.97 L182.12 338.22 L184.87 338.47 L187.61 338.72 L190.35 338.96 L193.09 339.21 L195.84 339.45 L198.58 339.70 L201.32 339.94 L204.06 340.18 L206.81 340.42 L209.55 340.66 L212.29 340.89 L215.03 341.13 L217.78 341.37 L220.52 341.60 L223.26 341.83 L226.00 342.06 L228.75 342.29 L231.49 342.52 L234.23 342.75 L236.97 342.97 L239.72 343.20 L242.46 343.42 L245.20 343.65 L247.94 343.87 L250.69 344.09 L253.43 344.31 L256.17 344.53 L258.91 344.74 L261.66 344.96 L264.40 345.17 L267.14 345.39 L269.88 345.60 L272.63 345.81 L275.37 346.02 L278.11 346.23 L280.85 346.44 L283.60 346.65 L286.34 346.85 L289.08 347.06 L291.82 347.26 L294.57 347.47 L297.31 347.67 L300.05 347.87 L302.79 348.07 L305.54 348.27 L308.28 348.47 L311.02 348.66 L313.76 348.86 L316.51 349.06 L319.25 349.25 L321.99 349.44 L324.73 349.63 L327.48 349.83 L330.22 350.02 L332.96 350.20 L335.70 350.39 L338.45 350.58 L341.19 350.77 L343.93 350.95 L346.67 351.14 L349.42 351.32 L352.16 351.50 L354.90 351.68 L357.64 351.86 L360.39 352.04 L363.13 352.22 L365.87 352.40 L368.61 352.58 L371.36 352.75 L374.10 352.93 L376.84 353.10 L379.58 353.28 L382.33 353.45 L385.07 353.62 L387.81 353.79 L390.55 353.96 L393.30 354.13 L396.04 354.30 L398.78 354.46 L401.52 354.63 L404.27 354.80 L407.01 354.96 L409.75 355.12 L412.49 355.29 L415.24 355.45 L417.98 355.61 L420.72 355.77 L423.46 355.93 L426.21 356.09 L428.95 356.25 L431.69 356.41 L434.43 356.56 L437.18 356.72 L439.92 356.87 L442.66 357.03 L445.40 357.18 L448.15 357.33 L450.89 357.48 L453.63 357.63 L456.37 357.78 L459.12 357.93 L461.86 358.08 L464.60 358.23 L467.34 358.38 L470.09 358.52 L472.83 358.67 L475.57 358.81 L478.31 358.96 L481.06 359.10 L483.80 359.24 L486.54 359.39 L489.28 359.53 L492.03 359.67 L494.77 359.81 L497.51 359.95 L500.25 360.09 L503.00 360.22 L505.74 360.36 L508.48 360.50 L511.22 360.63 L513.97 360.77 L516.71 360.90 L519.45 361.03 L522.19 361.17 L524.94 361.30 L527.68 361.43 L530.42 361.56 L533.16 361.69 L535.91 361.82 L538.65 361.95 L541.39 362.08 L544.14 362.20 L546.88 362.33 L549.62 362.46 L552.36 362.58 L555.11 362.71 L557.85 362.83 L560.59 362.96 L563.33 363.08 L566.08 363.20 L568.82 363.32 L571.56 363.44 L574.30 363.56 L577.05 363.68 L579.79 363.80 L582.53 363.92 L585.27 364.04 L588.02 364.16 L590.76 364.27 L593.50 364.39 L596.24 364.51 L598.99 364.62 L601.73 364.74 L604.47 364.85 L607.21 364.96 L609.96 365.08 L612.70 365.19 L615.44 365.30 L618.18 365.41 L620.93 365.52 L623.67 365.63 L626.41 365.74 L629.15 365.85 L631.90 365.96 L634.64 366.06 L637.38 366.17 L640.12 366.28 L642.87 366.38 L645.61 366.49 L648.35 366.59 L651.09 366.70 L653.84 366.80 L656.58 366.90 L659.32 367.01 L662.06 367.11 L664.81 367.21 L667.55 367.31 L670.29 367.41 L673.03 367.51 L675.78 367.61 L678.52 367.71 L681.26 367.81 L684.00 367.91" fill="none" stroke="#000" stroke-width="4.8" stroke-linecap="round" stroke-linejoin="round" stroke-dasharray="30.100 12.900" stroke-dashoffset="1.600"/>
<path d="M155.30 37.60 L158.73 43.62 L151.87 43.62Z" fill="#4a4a4a"/>
<path d="M155.30 65.50 L158.73 71.52 L151.87 71.52Z" fill="#4a4a4a"/>
<path d="M214.00 161.10 L217.43 167.12 L210.57 167.12Z" fill="#4a4a4a"/>
<path d="M159.30 261.80 L162.73 267.82 L155.87 267.82Z" fill="#4a4a4a"/>
<path d="M171.50 272.90 L174.93 278.92 L168.07 278.92Z" fill="#4a4a4a"/>
<path d="M333.10 229.30 L336.53 235.32 L329.67 235.32Z" fill="#4a4a4a"/>
<path d="M230.20 346.70 L233.63 352.72 L226.77 352.72Z" fill="#4a4a4a"/>
<path d="M244.40 376.90 L247.83 382.92 L240.97 382.92Z" fill="#4a4a4a"/>
<path d="M332.70 322.70 L336.13 328.72 L329.27 328.72Z" fill="#4a4a4a"/>
<path d="M589.50 355.50 L592.93 361.52 L586.07 361.52Z" fill="#4a4a4a"/>
<path d="M635.00 348.60 L638.43 354.62 L631.57 354.62Z" fill="#4a4a4a"/>
<circle cx="154.50" cy="174.10" r="2.40" fill="#4a4a4a"/>
<circle cx="159.40" cy="178.50" r="2.40" fill="#4a4a4a"/>
<circle cx="154.60" cy="294.00" r="2.40" fill="#4a4a4a"/>
<circle cx="171.60" cy="356.10" r="2.40" fill="#4a4a4a"/>
<circle cx="213.80" cy="362.60" r="2.40" fill="#4a4a4a"/>
<circle cx="230.20" cy="365.40" r="2.40" fill="#4a4a4a"/>
<circle cx="243.90" cy="357.80" r="2.40" fill="#4a4a4a"/>
<circle cx="333.10" cy="239.80" r="2.40" fill="#4a4a4a"/>
<circle cx="589.50" cy="372.40" r="2.40" fill="#4a4a4a"/>
<path d="M151.80 88.83 L158.80 88.83 L155.30 94.85Z" fill="none" stroke="#4a4a4a" stroke-width="1.9" stroke-linejoin="miter"/>
<path d="M155.80 287.03 L162.80 287.03 L159.30 293.05Z" fill="none" stroke="#4a4a4a" stroke-width="1.9" stroke-linejoin="miter"/>
<path d="M151.80 340.43 L158.80 340.43 L155.30 346.45Z" fill="none" stroke="#4a4a4a" stroke-width="1.9" stroke-linejoin="miter"/>
<path d="M168.10 370.53 L175.10 370.53 L171.60 376.55Z" fill="none" stroke="#4a4a4a" stroke-width="1.9" stroke-linejoin="miter"/>
<path d="M210.30 327.13 L217.30 327.13 L213.80 333.15Z" fill="none" stroke="#4a4a4a" stroke-width="1.9" stroke-linejoin="miter"/>
<path d="M240.60 301.03 L247.60 301.03 L244.10 307.05Z" fill="none" stroke="#4a4a4a" stroke-width="1.9" stroke-linejoin="miter"/>
<path d="M226.20 352.63 L233.20 352.63 L229.70 358.65Z" fill="none" stroke="#4a4a4a" stroke-width="1.9" stroke-linejoin="miter"/>
<path d="M232.30 358.73 L239.30 358.73 L235.80 364.75Z" fill="none" stroke="#4a4a4a" stroke-width="1.9" stroke-linejoin="miter"/>
<path d="M227.70 366.33 L234.70 366.33 L231.20 372.35Z" fill="none" stroke="#4a4a4a" stroke-width="1.9" stroke-linejoin="miter"/>
<path d="M329.20 328.53 L336.20 328.53 L332.70 334.55Z" fill="none" stroke="#4a4a4a" stroke-width="1.9" stroke-linejoin="miter"/>
<path d="M642.90 386.43 L649.90 386.43 L646.40 392.45Z" fill="none" stroke="#4a4a4a" stroke-width="1.9" stroke-linejoin="miter"/>
<path d="M586.00 380.43 L593.00 380.43 L589.50 386.45Z" fill="none" stroke="#4a4a4a" stroke-width="1.9" stroke-linejoin="miter"/>
<path d="M190.30 272.92 L198.90 272.92 L194.60 280.01Z" fill="#4a4a4a"/>
<path d="M327.50 381.52 L336.10 381.52 L331.80 388.62Z" fill="#4a4a4a"/>
<path d="M630.70 373.22 L639.30 373.22 L635.00 380.31Z" fill="#4a4a4a"/>
<rect x="151.90" y="320.70" width="5.40" height="5.40" fill="#4a4a4a"/>
<rect x="168.80" y="281.70" width="5.40" height="5.40" fill="#4a4a4a"/>
<rect x="191.90" y="320.10" width="5.40" height="5.40" fill="#4a4a4a"/>
<rect x="210.80" y="319.80" width="5.40" height="5.40" fill="#4a4a4a"/>
<rect x="226.50" y="371.90" width="5.40" height="5.40" fill="#4a4a4a"/>
<rect x="227.00" y="375.40" width="5.40" height="5.40" fill="#4a4a4a"/>
<rect x="241.20" y="365.80" width="5.40" height="5.40" fill="#4a4a4a"/>
<rect x="328.30" y="358.20" width="5.40" height="5.40" fill="#4a4a4a"/>
<rect x="643.70" y="372.90" width="5.40" height="5.40" fill="#4a4a4a"/>
<rect x="643.70" y="362.30" width="5.40" height="5.40" fill="#4a4a4a"/>
<circle cx="154.60" cy="285.00" r="2.45" fill="none" stroke="#4a4a4a" stroke-width="2.0"/>
<circle cx="154.50" cy="352.80" r="2.45" fill="none" stroke="#4a4a4a" stroke-width="2.0"/>
<circle cx="171.60" cy="362.60" r="2.45" fill="none" stroke="#4a4a4a" stroke-width="2.0"/>
<circle cx="195.20" cy="335.80" r="2.45" fill="none" stroke="#4a4a4a" stroke-width="2.0"/>
<circle cx="230.10" cy="330.10" r="2.45" fill="none" stroke="#4a4a4a" stroke-width="2.0"/>
<circle cx="243.90" cy="363.90" r="2.45" fill="none" stroke="#4a4a4a" stroke-width="2.0"/>
<circle cx="235.30" cy="382.20" r="2.45" fill="none" stroke="#4a4a4a" stroke-width="2.0"/>
<circle cx="332.70" cy="319.00" r="2.45" fill="none" stroke="#4a4a4a" stroke-width="2.0"/>
<circle cx="331.80" cy="375.20" r="2.45" fill="none" stroke="#4a4a4a" stroke-width="2.0"/>
<circle cx="589.50" cy="345.20" r="2.45" fill="none" stroke="#4a4a4a" stroke-width="2.0"/>
<circle cx="635.00" cy="386.70" r="2.45" fill="none" stroke="#4a4a4a" stroke-width="2.0"/>
<circle cx="646.40" cy="361.10" r="2.45" fill="none" stroke="#4a4a4a" stroke-width="2.0"/>
<path d="M113.7 1.2 V401.3 H707.2" fill="none" stroke="#000" stroke-width="2.35"/>
<line x1="105.8" y1="387.00" x2="113" y2="387.00" stroke="#000" stroke-width="2.3"/>
<text transform="translate(102.4,398.90) scale(1,1.095)" text-anchor="end" font-size="29.4" font-family="'Liberation Sans', sans-serif">0</text>
<line x1="105.8" y1="294.50" x2="113" y2="294.50" stroke="#000" stroke-width="2.3"/>
<text transform="translate(102.4,306.39) scale(1,1.095)" text-anchor="end" font-size="29.4" font-family="'Liberation Sans', sans-serif">150</text>
<line x1="105.8" y1="201.99" x2="113" y2="201.99" stroke="#000" stroke-width="2.3"/>
<text transform="translate(102.4,213.89) scale(1,1.095)" text-anchor="end" font-size="29.4" font-family="'Liberation Sans', sans-serif">300</text>
<line x1="105.8" y1="109.49" x2="113" y2="109.49" stroke="#000" stroke-width="2.3"/>
<text transform="translate(102.4,121.39) scale(1,1.095)" text-anchor="end" font-size="29.4" font-family="'Liberation Sans', sans-serif">450</text>
<line x1="105.8" y1="16.98" x2="113" y2="16.98" stroke="#000" stroke-width="2.3"/>
<text transform="translate(102.4,28.88) scale(1,1.095)" text-anchor="end" font-size="29.4" font-family="'Liberation Sans', sans-serif">600</text>
<line x1="135.50" y1="402" x2="135.50" y2="409.3" stroke="#000" stroke-width="2.3"/>
<text transform="translate(135.30,441.2) scale(1,1.095)" text-anchor="middle" font-size="29.4" font-family="'Liberation Sans', sans-serif">0</text>
<line x1="237.15" y1="402" x2="237.15" y2="409.3" stroke="#000" stroke-width="2.3"/>
<text transform="translate(236.95,441.2) scale(1,1.095)" text-anchor="middle" font-size="29.4" font-family="'Liberation Sans', sans-serif">5</text>
<line x1="338.80" y1="402" x2="338.80" y2="409.3" stroke="#000" stroke-width="2.3"/>
<text transform="translate(338.60,441.2) scale(1,1.095)" text-anchor="middle" font-size="29.4" font-family="'Liberation Sans', sans-serif">10</text>
<line x1="440.45" y1="402" x2="440.45" y2="409.3" stroke="#000" stroke-width="2.3"/>
<text transform="translate(440.25,441.2) scale(1,1.095)" text-anchor="middle" font-size="29.4" font-family="'Liberation Sans', sans-serif">15</text>
<line x1="542.10" y1="402" x2="542.10" y2="409.3" stroke="#000" stroke-width="2.3"/>
<text transform="translate(541.90,441.2) scale(1,1.095)" text-anchor="middle" font-size="29.4" font-family="'Liberation Sans', sans-serif">20</text>
<line x1="643.75" y1="402" x2="643.75" y2="409.3" stroke="#000" stroke-width="2.3"/>
<text transform="translate(643.55,441.2) scale(1,1.095)" text-anchor="middle" font-size="29.4" font-family="'Liberation Sans', sans-serif">25</text>
<text x="323" y="490" font-size="32.5" font-family="'Liberation Sans', sans-serif">Vole index</text>
<text transform="translate(25.2,392.3) rotate(-90)" font-size="32.75" font-family="'Liberation Sans', sans-serif">No. of prey consumed</text>
<text x="581" y="29.50" font-size="23.4" font-family="'Liberation Sans', sans-serif">Crested tit</text>
<line x1="516.7" y1="20.90" x2="558.7" y2="20.90" stroke="#000" stroke-width="2.2" stroke-linecap="round" stroke-dasharray="8.8 8.8"/>
<rect x="499.80" y="17.80" width="5.40" height="5.40" fill="#4a4a4a"/>
<text x="581" y="57.80" font-size="23.4" font-family="'Liberation Sans', sans-serif">Willow tit</text>
<line x1="516.7" y1="49.20" x2="558.7" y2="49.20" stroke="#000" stroke-width="2.2" stroke-linecap="round"/>
<path d="M502.50 45.30 L505.93 51.32 L499.07 51.32Z" fill="#4a4a4a"/>
<text x="581" y="86.10" font-size="23.4" font-family="'Liberation Sans', sans-serif">Great tit</text>
<line x1="516.7" y1="77.50" x2="558.7" y2="77.50" stroke="#000" stroke-width="2.2" stroke-linecap="round" stroke-dasharray="2.2 6.6000000000000005"/>
<circle cx="502.50" cy="77.10" r="2.40" fill="#4a4a4a"/>
<text x="581" y="114.40" font-size="23.4" font-family="'Liberation Sans', sans-serif">Blue tit</text>
<line x1="516.7" y1="105.80" x2="558.7" y2="105.80" stroke="#000" stroke-width="2.2" stroke-linecap="round" stroke-dasharray="2.2 6.6000000000000005 8.8 6.6000000000000005"/>
<path d="M499.00 103.53 L506.00 103.53 L502.50 109.55Z" fill="none" stroke="#4a4a4a" stroke-width="1.9" stroke-linejoin="miter"/>
<text x="581" y="142.70" font-size="23.4" font-family="'Liberation Sans', sans-serif">Goldcrest</text>
<line x1="516.7" y1="134.10" x2="558.7" y2="134.10" stroke="#000" stroke-width="2.2" stroke-linecap="round" stroke-dasharray="15.400000000000002 6.6000000000000005"/>
<circle cx="502.50" cy="133.70" r="2.45" fill="none" stroke="#4a4a4a" stroke-width="2.0"/>
</svg>
</body></html>
